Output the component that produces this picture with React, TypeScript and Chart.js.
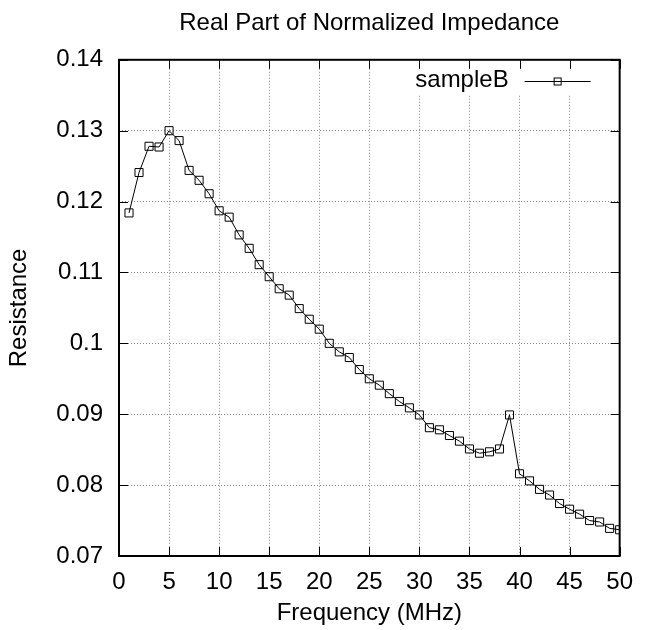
import { useEffect, useRef } from 'react';
import { Chart, registerables } from 'chart.js';

Chart.register(...registerables);

const chartTitle = 'Real Part of Normalized Impedance';
const xAxisTitle = 'Frequency (MHz)';
const yAxisTitle = 'Resistance';
const seriesLabel = 'sampleB';

const frequencies = [
  1, 2, 3, 4, 5, 6, 7, 8, 9, 10,
  11, 12, 13, 14, 15, 16, 17, 18, 19, 20,
  21, 22, 23, 24, 25, 26, 27, 28, 29, 30,
  31, 32, 33, 34, 35, 36, 37, 38, 39, 40,
  41, 42, 43, 44, 45, 46, 47, 48, 49, 50,
];

const resistance = [
  0.1184, 0.1241, 0.1278, 0.1277, 0.1300, 0.1286, 0.1244, 0.1230, 0.1211, 0.1187,
  0.1178, 0.1153, 0.1134, 0.1111, 0.1094, 0.1077, 0.1068, 0.1049, 0.1034, 0.1020,
  0.1000, 0.0988, 0.0980, 0.0963, 0.0950, 0.0941, 0.0929, 0.0918, 0.0909, 0.0899,
  0.0881, 0.0878, 0.0870, 0.0862, 0.0851, 0.0845, 0.0847, 0.0851, 0.0899, 0.0816,
  0.0806, 0.0794, 0.0786, 0.0774, 0.0766, 0.0759, 0.0750, 0.0748, 0.0739, 0.0737,
];

const xTickValues = [0, 5, 10, 15, 20, 25, 30, 35, 40, 45, 50];
const yTickValues = [0.07, 0.08, 0.09, 0.1, 0.11, 0.12, 0.13, 0.14];

const FONT = "'Liberation Sans', Arial, Helvetica, sans-serif";
const FONT_SIZE = 24;

const gnuplotFrame = {
  id: 'gnuplotFrame',
  beforeDatasetsDraw(chart: any) {
    const { ctx, chartArea: a } = chart;
    ctx.save();
    ctx.fillStyle = '#ffffff';
    ctx.fillRect(a.right - 216, a.top, 216, 35);
    ctx.restore();
  },
  afterDatasetsDraw(chart: any) {
    const { ctx, chartArea: a, scales } = chart;
    ctx.save();
    const tl = 9;
    ctx.strokeStyle = '#000';
    ctx.lineWidth = 1;
    ctx.beginPath();
    for (const v of xTickValues) {
      const x = Math.round(scales.x.getPixelForValue(v)) + 0.5;
      ctx.moveTo(x, a.bottom);
      ctx.lineTo(x, a.bottom - tl);
      ctx.moveTo(x, a.top);
      ctx.lineTo(x, a.top + tl);
    }
    for (const v of yTickValues) {
      const y = Math.round(scales.y.getPixelForValue(v)) + 0.5;
      ctx.moveTo(a.left, y);
      ctx.lineTo(a.left + tl, y);
      ctx.moveTo(a.right, y);
      ctx.lineTo(a.right - tl, y);
    }
    ctx.stroke();
    ctx.lineWidth = 2;
    ctx.strokeRect(a.left, a.top, a.right - a.left, a.bottom - a.top);

    // key
    const ds = chart.data.datasets[0];
    const ly = a.top + 21;
    ctx.font = `${FONT_SIZE}px ${FONT}`;
    ctx.fillStyle = '#000';
    ctx.textAlign = 'right';
    ctx.textBaseline = 'middle';
    ctx.fillText(ds.label, a.right - 111, ly);
    ctx.lineWidth = 1;
    ctx.beginPath();
    ctx.moveTo(a.right - 95, Math.round(ly) + 0.5);
    ctx.lineTo(a.right - 29, Math.round(ly) + 0.5);
    ctx.stroke();
    ctx.strokeRect(a.right - 62 - 3.5, Math.round(ly) - 3, 7, 7);
    ctx.restore();
  },
};

export default function App() {
  const canvasRef = useRef<HTMLCanvasElement | null>(null);

  useEffect(() => {
    const canvas = canvasRef.current;
    if (!canvas) return;
    const points = frequencies.map((f, i) => ({ x: f, y: resistance[i] }));
    const chart = new Chart(canvas, {
      type: 'line',
      data: {
        datasets: [
          {
            label: seriesLabel,
            data: points,
            borderColor: '#000',
            borderWidth: 1,
            backgroundColor: 'transparent',
            pointStyle: 'rect',
            pointRadius: 5.7,
            pointHoverRadius: 5.7,
            pointBorderColor: '#000',
            pointBackgroundColor: 'transparent',
            pointBorderWidth: 1,
            tension: 0,
            fill: false,
          },
        ],
      },
      options: {
        responsive: false,
        animation: false,
        events: [],
        layout: { padding: { left: 0, right: 17, top: 0, bottom: 0 } },
        plugins: {
          legend: { display: false },
          tooltip: { enabled: false },
          title: {
            display: true,
            text: chartTitle,
            fullSize: false,
            color: '#000',
            font: { family: FONT, size: FONT_SIZE, weight: 'normal' },
            padding: { top: 9, bottom: 22 },
          },
        },
        scales: {
          x: {
            type: 'linear',
            min: 0,
            max: 50,
            afterBuildTicks: (scale: any) => {
              scale.ticks = xTickValues.map((v) => ({ value: v }));
            },
            afterFit: (scale: any) => {
              scale.height = 74;
            },
            ticks: {
              color: '#000',
              font: { family: FONT, size: FONT_SIZE },
              padding: 12,
              maxRotation: 0,
              autoSkip: false,
              callback: (v: any) => String(v),
            },
            grid: { color: '#8a8a8a', lineWidth: 1, drawTicks: false, borderDash: [1, 2] },
            border: { display: false, dash: [1, 2] },
            title: {
              display: true,
              text: xAxisTitle,
              color: '#000',
              font: { family: FONT, size: FONT_SIZE },
              padding: { top: 0, bottom: 2 },
            },
          },
          y: {
            type: 'linear',
            min: 0.07,
            max: 0.14,
            afterBuildTicks: (scale: any) => {
              scale.ticks = yTickValues.map((v) => ({ value: v }));
            },
            afterFit: (scale: any) => {
              scale.width = 119;
            },
            ticks: {
              color: '#000',
              font: { family: FONT, size: FONT_SIZE },
              padding: 16,
              autoSkip: false,
              callback: (v: any) => String(parseFloat(Number(v).toFixed(2))),
            },
            grid: { color: '#8a8a8a', lineWidth: 1, drawTicks: false, borderDash: [1, 2] },
            border: { display: false, dash: [1, 2] },
            title: {
              display: true,
              text: yAxisTitle,
              color: '#000',
              font: { family: FONT, size: FONT_SIZE },
              padding: { top: 5, bottom: 0 },
            },
          },
        },
      },
      plugins: [gnuplotFrame],
    });
    return () => chart.destroy();
  }, []);

  return (
    <div style={{ position: 'fixed', left: 0, top: 0, width: 645, height: 630, background: '#fff' }}>
      <canvas ref={canvasRef} width={645} height={630} style={{ display: 'block' }} />
    </div>
  );
}
